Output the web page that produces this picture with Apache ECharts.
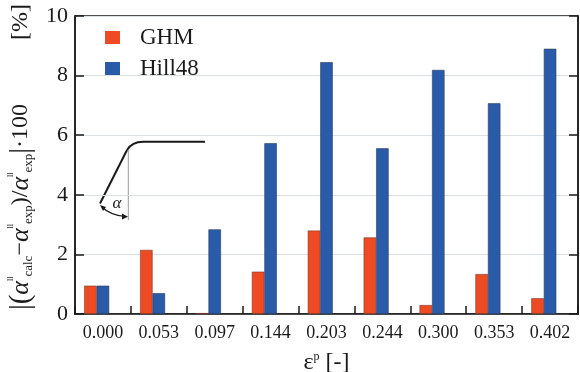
<!DOCTYPE html>
<html style="height: 100%">
<head>
    <meta charset="utf-8">
    <script src="https://cdn.jsdelivr.net/npm/echarts@6/dist/echarts.min.js"></script>
</head>
<body style="height: 100%; margin: 0; background: #fff">
    <div id="main" style="width:580px;height:372px;"></div>
    <script type="text/javascript">
    var myChart = echarts.init(document.getElementById('main'));

    // strain levels and errors
    var strains = ['0.000', '0.053', '0.097', '0.144', '0.203', '0.244', '0.300', '0.353', '0.402'];
    var ghm = [0.95, 2.15, 0.03, 1.42, 2.8, 2.57, 0.3, 1.34, 0.53];
    var hill48 = [0.95, 0.7, 2.84, 5.73, 8.45, 5.56, 8.19, 7.07, 8.9];
    var yTicks = { min: 0, max: 10, interval: 2 };

    var serif = 'Liberation Serif';
    var ink = '#1a1a1a';

    var option = {
        animation: false,
        backgroundColor: '#fff',
        grid: {
            left: 75, right: 2, top: 16, bottom: 58,
            outerBoundsMode: 'none',
            show: true, borderColor: ink, borderWidth: 1.5
        },
        legend: {
            orient: 'vertical',
            left: 100, top: 21,
            icon: 'rect',
            itemWidth: 15, itemHeight: 13, itemGap: 8,
            data: ['GHM', 'Hill48'],
            itemStyle: { borderWidth: 0 },
            textStyle: { fontFamily: serif, fontSize: 23, color: ink, padding: [0, 0, 0, 15] }
        },
        xAxis: {
            type: 'category',
            data: strains,
            axisLine: { show: true, lineStyle: { color: ink, width: 1.5 } },
            axisTick: {
                show: true, inside: true, length: 8, interval: 0, alignWithLabel: false,
                lineStyle: { color: ink, width: 1.5 }
            },
            axisLabel: { fontFamily: serif, fontSize: 18, color: ink, margin: 10, interval: 0 },
            name: '{e|ε}{p|p}{e| [-]}',
            nameLocation: 'middle',
            nameGap: 37,
            nameTextStyle: {
                rich: {
                    e: { fontFamily: serif, fontSize: 24, color: ink, verticalAlign: 'bottom' },
                    p: { fontFamily: serif, fontSize: 12, color: ink, verticalAlign: 'top' }
                }
            }
        },
        yAxis: [
            {
                type: 'value',
                min: yTicks.min, max: yTicks.max, interval: yTicks.interval,
                axisLine: { show: true, lineStyle: { color: ink, width: 1.5 } },
                axisTick: { show: true, inside: true, length: 9, lineStyle: { color: ink, width: 1.5 } },
                axisLabel: { fontFamily: serif, fontSize: 22, color: ink, margin: 7 },
                splitLine: { lineStyle: { color: '#d9e0e6', width: 1 } }
            },
            {
                type: 'value',
                position: 'right',
                min: yTicks.min, max: yTicks.max, interval: yTicks.interval,
                axisLine: { show: true, lineStyle: { color: ink, width: 1.5 } },
                axisTick: { show: true, inside: true, length: 9, lineStyle: { color: ink, width: 1.5 } },
                axisLabel: { show: false },
                splitLine: { show: false }
            }
        ],
        series: [
            {
                name: 'GHM',
                type: 'bar',
                data: ghm,
                barWidth: 12.5,
                barGap: '0%',
                itemStyle: { color: '#EE4A24', borderColor: '#7a3a2a', borderWidth: 0.6 }
            },
            {
                name: 'Hill48',
                type: 'bar',
                data: hill48,
                barWidth: 12.5,
                barGap: '0%',
                itemStyle: { color: '#2A5BA9', borderColor: '#2d3d5a', borderWidth: 0.6 }
            },
            {
                // empty slot: the pairs in the source sit left of centre
                name: 'pad',
                type: 'bar',
                data: [],
                barWidth: 12.5,
                barGap: '0%'
            }
        ],
        graphic: [
            // y-axis title
            {
                type: 'text',
                x: 21, y: 207,
                rotation: Math.PI / 2,
                style: {
                    text: '{b||(}{a|α}{s|ll}{u|calc}{n|−}{a|α}{s|ll}{u|exp}{n|)/}{a|α}{s|ll}{u|exp}{b||}{n|·100}',
                    align: 'center',
                    verticalAlign: 'middle',
                    rich: {
                        b: { fontFamily: serif, fontSize: 29, fill: ink },
                        a: { fontFamily: serif, fontSize: 26, fontStyle: 'italic', fill: ink },
                        s: { fontFamily: serif, fontSize: 8, fill: ink, verticalAlign: 'top' },
                        u: { fontFamily: serif, fontSize: 13, fill: ink, verticalAlign: 'bottom' },
                        n: { fontFamily: serif, fontSize: 24, fill: ink }
                    }
                }
            },
            {
                type: 'text',
                x: 21, y: 22,
                rotation: Math.PI / 2,
                style: {
                    text: '[%]',
                    align: 'center',
                    verticalAlign: 'middle',
                    fontFamily: serif, fontSize: 24, fill: ink
                }
            },
            // inset sketch of the angle alpha
            {
                type: 'group',
                children: [
                    {
                        type: 'line',
                        shape: { x1: 128.3, y1: 150, x2: 128.3, y2: 220 },
                        style: { stroke: '#999', lineWidth: 1 }
                    },
                    {
                        type: 'polyline',
                        shape: { points: [[100, 203.5], [127, 150]] },
                        style: { stroke: ink, lineWidth: 2, fill: null }
                    },
                    {
                        type: 'bezierCurve',
                        shape: { x1: 127, y1: 150, cpx1: 132, cpy1: 141.7, x2: 143, y2: 141.7 },
                        style: { stroke: ink, lineWidth: 2, fill: null }
                    },
                    {
                        type: 'line',
                        shape: { x1: 143, y1: 141.7, x2: 205, y2: 141.7 },
                        style: { stroke: ink, lineWidth: 2 }
                    },
                    {
                        type: 'bezierCurve',
                        shape: { x1: 102, y1: 207, cpx1: 110, cpy1: 215, x2: 125, y2: 216.5 },
                        style: { stroke: ink, lineWidth: 1.2, fill: null }
                    },
                    {
                        type: 'polygon',
                        shape: { points: [[100, 205], [106, 207], [103, 211]] },
                        style: { fill: ink }
                    },
                    {
                        type: 'polygon',
                        shape: { points: [[128, 216.8], [122, 213.5], [122, 219.5]] },
                        style: { fill: ink }
                    },
                    {
                        type: 'text',
                        x: 117, y: 204,
                        style: {
                            text: 'α', align: 'center', verticalAlign: 'middle',
                            fontFamily: serif, fontStyle: 'italic', fontSize: 17, fill: ink
                        }
                    }
                ]
            }
        ]
    };

    option && myChart.setOption(option);
    </script>
</body>
</html>
